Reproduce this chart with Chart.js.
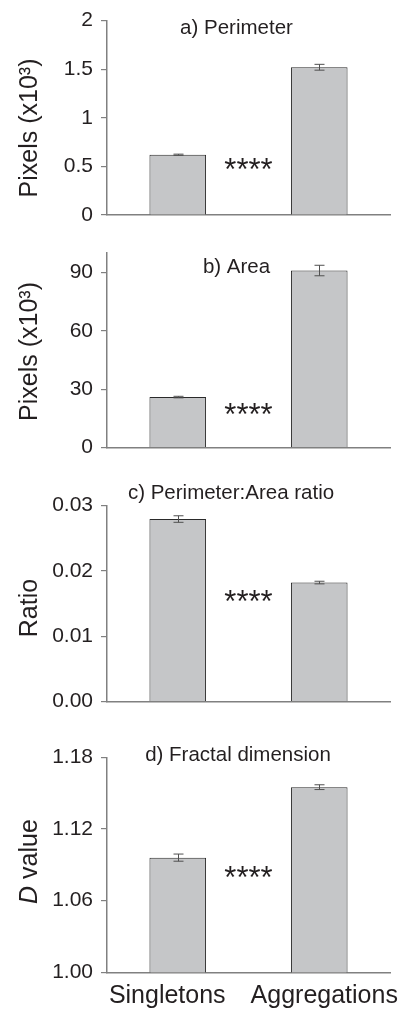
<!DOCTYPE html>
<html>
<head>
<meta charset="utf-8">
<script src="https://cdn.jsdelivr.net/npm/chart.js@4"></script>
<style>
  body { margin: 0; background: #fff; width: 403px; height: 1010px; position: relative; overflow: hidden; }
  canvas { position: absolute; left: 0; }
</style>
</head>
<body>
<canvas id="perimeterChart" width="403" height="240" style="top:0px"></canvas>
<canvas id="areaChart" width="403" height="245" style="top:225px"></canvas>
<canvas id="ratioChart" width="403" height="255" style="top:470px"></canvas>
<canvas id="fractalChart" width="403" height="285" style="top:725px"></canvas>
<script>
// Data
const categories = ['Singletons', 'Aggregations'];

const perimeterValues = [0.62, 1.52];
const perimeterErrors = [0.006, 0.03];
const perimeterTicks = [0, 2, 0.5];      // min, max, step

const areaValues = [26, 91];
const areaErrors = [0.4, 2.7];
const areaTicks = [0, 100, 30];

const ratioValues = [0.0279, 0.0182];
const ratioErrors = [0.0005, 0.0002];
const ratioTicks = [0, 0.03, 0.01];

const fractalValues = [1.096, 1.155];
const fractalErrors = [0.003, 0.002];
const fractalTicks = [1.00, 1.18, 0.06];

const FONT = '"Liberation Sans", Arial, Helvetica, sans-serif';
const TEXT = '#231f20';
const AXIS = '#808080';

// Draws error bars, the **** marker, the panel title, the y title
// and (bottom panel only) the category labels
const panelDecor = {
    id: 'panelDecor',
    afterDatasetsDraw(chart, args, opts) {
        const ctx = chart.ctx;
        const xs = chart.scales.x, ys = chart.scales.y;
        const vals = chart.data.datasets[0].data;
        ctx.save();

        // error bars
        ctx.strokeStyle = '#505050';
        ctx.lineWidth = 1;
        vals.forEach((v, i) => {
            const cx = Math.round(xs.getPixelForValue(i)) + 0.5;
            const top = ys.getPixelForValue(v + opts.errors[i]);
            const bot = ys.getPixelForValue(v - opts.errors[i]);
            ctx.beginPath();
            ctx.moveTo(cx, top); ctx.lineTo(cx, bot);
            ctx.moveTo(cx - 5, top); ctx.lineTo(cx + 5, top);
            ctx.moveTo(cx - 5, bot); ctx.lineTo(cx + 5, bot);
            ctx.stroke();
        });

        // significance stars between the bars
        ctx.fillStyle = TEXT;
        ctx.font = '31px ' + FONT;
        ctx.textAlign = 'center';
        ctx.textBaseline = 'alphabetic';
        const m = ctx.measureText('****');
        const sx = (xs.getPixelForValue(0) + xs.getPixelForValue(1)) / 2;
        const sy = ys.getPixelForValue(opts.starsAt) + (m.actualBoundingBoxAscent - m.actualBoundingBoxDescent) / 2;
        ctx.fillText('****', sx, sy);

        // panel title
        ctx.font = '20.5px ' + FONT;
        ctx.fillText(opts.title, opts.titleX, opts.titleY);

        // category labels, nudged like the original figure
        if (opts.showLabels) {
            ctx.font = '25px ' + FONT;
            chart.data.labels.forEach((lab, i) => {
                ctx.fillText(lab, xs.getPixelForValue(i) + opts.labelShift[i], xs.top + 30.5);
            });
        }

        // rotated y title, built from pieces so D can be italic
        ctx.translate(opts.yTitleX, opts.yTitleY);
        ctx.rotate(-Math.PI / 2);
        ctx.textAlign = 'left';
        let total = 0;
        opts.yTitle.forEach(p => {
            ctx.font = (p.italic ? 'italic ' : '') + '25px ' + FONT;
            total += ctx.measureText(p.text).width;
        });
        let px = -total / 2;
        opts.yTitle.forEach(p => {
            ctx.font = (p.italic ? 'italic ' : '') + '25px ' + FONT;
            ctx.fillText(p.text, px, 0);
            px += ctx.measureText(p.text).width;
        });
        ctx.restore();
    }
};

function makePanel(canvasId, canvasTop, axisTop, axisBottom, values, ticks, decor) {
    const canvas = document.getElementById(canvasId);
    const h = canvas.height;
    const showLabels = !!decor.showLabels;
    const xHeight = showLabels ? h - (axisBottom - canvasTop) : 0;
    return new Chart(canvas, {
        type: 'bar',
        data: {
            labels: categories,
            datasets: [{
                data: values,
                backgroundColor: '#c5c6c8',
                borderColor: '#2a2a2a',
                borderWidth: 1,
                barPercentage: 0.4,
                categoryPercentage: 1
            }]
        },
        options: {
            responsive: false,
            animation: false,
            devicePixelRatio: 1,
            layout: {
                padding: {
                    top: axisTop - canvasTop,
                    bottom: showLabels ? 0 : h - (axisBottom - canvasTop),
                    left: 0,
                    right: 13
                }
            },
            scales: {
                x: {
                    grid: { display: false },
                    border: { display: true, color: AXIS, width: 1.5 },
                    ticks: { display: false },
                    afterFit: s => { s.height = xHeight; }
                },
                y: {
                    min: ticks[0],
                    max: ticks[1],
                    bounds: 'data',
                    grid: {
                        drawOnChartArea: false,
                        drawTicks: true,
                        tickLength: 6,
                        color: AXIS,
                        lineWidth: 1.2
                    },
                    border: { display: true, color: AXIS, width: 1.5 },
                    ticks: {
                        stepSize: ticks[2],
                        color: TEXT,
                        padding: 8,
                        font: { family: FONT, size: 21 },
                        callback: decor.format
                    },
                    // keep only whole steps (drops the extra 100 on the area axis)
                    afterBuildTicks: s => {
                        s.ticks = s.ticks.filter(t => {
                            const k = (t.value - ticks[0]) / ticks[2];
                            return Math.abs(k - Math.round(k)) < 1e-6;
                        });
                    },
                    afterFit: s => { s.width = 107; }
                }
            },
            plugins: {
                legend: { display: false },
                tooltip: { enabled: false },
                panelDecor: decor
            }
        },
        plugins: [panelDecor]
    });
}

makePanel('perimeterChart', 0, 20, 215, perimeterValues, perimeterTicks, {
    errors: perimeterErrors, starsAt: 0.52,
    title: 'a) Perimeter', titleX: 236.5, titleY: 33.5,
    yTitle: [{ text: 'Pixels (x10³)' }], yTitleX: 37, yTitleY: 128,
    format: v => String(v)
});

makePanel('areaChart', 225, 253, 447.7, areaValues, areaTicks, {
    errors: areaErrors, starsAt: 19.8,
    title: 'b) Area', titleX: 236.5, titleY: 273.3 - 225,
    yTitle: [{ text: 'Pixels (x10³)' }], yTitleX: 37, yTitleY: 351.5 - 225,
    format: v => String(v)
});

makePanel('ratioChart', 470, 505.3, 701.7, ratioValues, ratioTicks, {
    errors: ratioErrors, starsAt: 0.01615,
    title: 'c) Perimeter:Area ratio', titleX: 231, titleY: 499.3 - 470,
    yTitle: [{ text: 'Ratio' }], yTitleX: 37, yTitleY: 608 - 470,
    format: v => v.toFixed(2)
});

makePanel('fractalChart', 725, 757.3, 972.3, fractalValues, fractalTicks, {
    errors: fractalErrors, starsAt: 1.084,
    title: 'd) Fractal dimension', titleX: 238, titleY: 760.7 - 725,
    yTitle: [{ text: 'D', italic: true }, { text: ' value' }], yTitleX: 37, yTitleY: 861.5 - 725,
    format: v => v.toFixed(2),
    showLabels: true, labelShift: [-10.5, 5]
});
</script>
</body>
</html>
